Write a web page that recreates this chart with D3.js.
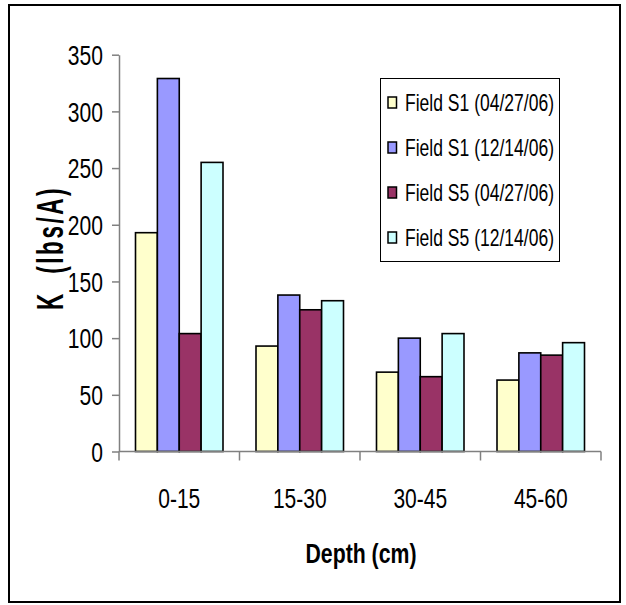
<!DOCTYPE html>
<html><head><meta charset="utf-8">
<script src="https://cdn.jsdelivr.net/npm/d3@7"></script>
<style>
body{margin:0;background:#fff;}
svg text{font-family:"Liberation Sans",Arial,sans-serif;}
</style></head>
<body>
<svg id="chart" width="626" height="605"></svg>
<script>
const categories = ["0-15", "15-30", "30-45", "45-60"];
const seriesNames = ["Field S1 (04/27/06)", "Field S1 (12/14/06)", "Field S5 (04/27/06)", "Field S5 (12/14/06)"];
const s1Apr = [193, 93, 70, 63];
const s1Dec = [329, 138, 100, 87];
const s5Apr = [104, 125, 66, 85];
const s5Dec = [255, 133, 104, 96];
const yTicks = [0, 50, 100, 150, 200, 250, 300, 350];
const colors = ["#FFFFCC", "#9999FF", "#993366", "#CCFFFF"];

(function () {
const seriesValues = [s1Apr, s1Dec, s5Apr, s5Dec];
const svg = d3.select("#chart");

function condense(sel, f) {
  sel.each(function () {
    const w = this.getComputedTextLength();
    d3.select(this).attr("textLength", w * f).attr("lengthAdjust", "spacingAndGlyphs");
  });
}

// outer border
svg.append("rect").attr("x", 9).attr("y", 5).attr("width", 611).attr("height", 597)
  .attr("fill", "none").attr("stroke", "#000").attr("stroke-width", 2);

const pLeft = 119, pRight = 601, pTop = 54.7, pBottom = 451.5;
const x0 = d3.scaleBand().domain(categories).range([pLeft, pRight]).padding(0);
const x1 = d3.scaleBand().domain(d3.range(4)).range([16.5, x0.bandwidth() - 16.5]).padding(0);
const y = d3.scaleLinear().domain([0, 350]).range([pBottom, pTop]);

// bars
const groups = svg.append("g").selectAll("g").data(categories).join("g")
  .attr("transform", d => `translate(${x0(d)},0)`);
groups.selectAll("rect").data((d, i) => seriesValues.map((s, k) => ({k, v: s[i]}))).join("rect")
  .attr("x", d => x1(d.k)).attr("y", d => y(d.v))
  .attr("width", x1.bandwidth()).attr("height", d => y(0) - y(d.v))
  .attr("fill", d => colors[d.k]).attr("stroke", "#000").attr("stroke-width", 1.6);

// y axis
const yAxis = svg.append("g").attr("transform", `translate(${pLeft},0)`)
  .call(d3.axisLeft(y).tickValues(yTicks).tickSize(7).tickSizeOuter(0).tickPadding(9));
yAxis.select(".domain").attr("stroke", "#808080").attr("stroke-width", 1.5);
yAxis.selectAll(".tick line").attr("stroke", "#808080").attr("stroke-width", 1.5);
const yt = yAxis.selectAll(".tick text").attr("font-size", 27).attr("fill", "#000")
  .attr("dy", "0.36em")
  .style("font-family", '"Liberation Sans",Arial,sans-serif');
condense(yt, 0.78);

// x axis
const xAxisG = svg.append("g").attr("transform", `translate(0,${pBottom})`);
xAxisG.append("line").attr("x1", pLeft).attr("x2", pRight).attr("y1", 0).attr("y2", 0)
  .attr("stroke", "#808080").attr("stroke-width", 1.5);
const boundaries = categories.map(c => x0(c)).concat([x0(categories[categories.length - 1]) + x0.bandwidth()]);
xAxisG.selectAll("line.tk").data(boundaries).join("line").attr("class", "tk")
  .attr("x1", d => d).attr("x2", d => d).attr("y1", 0).attr("y2", 9)
  .attr("stroke", "#808080").attr("stroke-width", 1.5);
const xt = xAxisG.selectAll("text").data(categories).join("text")
  .attr("x", d => x0(d) + x0.bandwidth() / 2).attr("y", 56)
  .attr("text-anchor", "middle").attr("font-size", 28).text(d => d);
condense(xt, 0.75);

// axis titles
const yTitle = svg.append("text").attr("transform", "translate(63,248) rotate(-90)")
  .attr("text-anchor", "middle").attr("font-size", 36).attr("font-weight", "bold")
  .attr("letter-spacing", 4).style("white-space", "pre")
  .text("K  (lbs/A)");
yTitle.attr("textLength", 124).attr("lengthAdjust", "spacingAndGlyphs");
const xTitle = svg.append("text").attr("x", 361).attr("y", 563).attr("text-anchor", "middle")
  .attr("font-size", 28).attr("font-weight", "bold").text("Depth (cm)");
xTitle.attr("textLength", 111).attr("lengthAdjust", "spacingAndGlyphs");

// legend
const lg = svg.append("g").attr("transform", "translate(380.5,78.5)");
lg.append("rect").attr("width", 179).attr("height", 183).attr("fill", "#fff")
  .attr("stroke", "#000").attr("stroke-width", 1);
const items = lg.selectAll("g").data(seriesNames).join("g")
  .attr("transform", (d, i) => `translate(0,${24 + i * 45})`);
items.append("rect").attr("x", 7.5).attr("y", -5.5).attr("width", 8.5).attr("height", 11)
  .attr("fill", (d, i) => colors[i]).attr("stroke", "#000").attr("stroke-width", 1.5);
const lt = items.append("text").attr("x", 24.5).attr("y", 8.5).attr("font-size", 24).text(d => d);
lt.attr("textLength", 149).attr("lengthAdjust", "spacingAndGlyphs");
})();
</script>
</body></html>
